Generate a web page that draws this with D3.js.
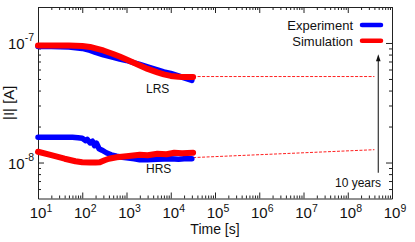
<!DOCTYPE html>
<html><head><meta charset="utf-8">
<script src="https://cdn.jsdelivr.net/npm/d3@7"></script>
<style>
body{margin:0;background:#fff}
svg{display:block;font-family:"Liberation Sans",Arial,Helvetica,sans-serif}
</style>
</head><body>
<svg id="c" width="415" height="242"></svg>
<script>
// ---- data ----
const lrsExpTime = [10,20,50,100,150,200,300,500,700,1000,1500,2000,3000,5000,7000,1e4,1.5e4,2e4,3e4];
const lrsExpI    = [9.35e-8,9.35e-8,9.26e-8,9.0e-8,8.66e-8,8.33e-8,7.94e-8,7.57e-8,7.35e-8,7.14e-8,6.81e-8,6.61e-8,6.30e-8,5.95e-8,5.73e-8,5.56e-8,5.30e-8,5.10e-8,4.86e-8];
const lrsSimTime = [10,50,100,150,200,300,500,700,1000,1500,2000,3000,5000,7000,1e4,1.5e4,2e4,3.2e4];
const lrsSimI    = [9.53e-8,9.53e-8,9.44e-8,9.26e-8,9.0e-8,8.66e-8,8.09e-8,7.71e-8,7.28e-8,6.81e-8,6.49e-8,6.07e-8,5.67e-8,5.46e-8,5.30e-8,5.22e-8,5.20e-8,5.20e-8];
const hrsExpTime = [10,30,60,80,100,120,130,150,170,190,210,240,280,350,450,600,800,1000,1500,2000,3000,5000,1e4,1.5e4,2e4,3e4];
const hrsExpI    = [1.626e-8,1.626e-8,1.626e-8,1.611e-8,1.596e-8,1.52e-8,1.562e-8,1.46e-8,1.506e-8,1.381e-8,1.449e-8,1.304e-8,1.267e-8,1.207e-8,1.16e-8,1.129e-8,1.107e-8,1.096e-8,1.076e-8,1.055e-8,1.055e-8,1.067e-8,1.076e-8,1.067e-8,1.076e-8,1.076e-8];
const hrsSimTime = [10,20,40,70,100,150,200,250,320,400,600,1000,2000,3000,5000,8000,1.2e4,1.8e4,3.2e4];
const hrsSimI    = [1.231e-8,1.151e-8,1.076e-8,1.025e-8,1.006e-8,1.0e-8,1.0e-8,1.006e-8,1.045e-8,1.076e-8,1.107e-8,1.129e-8,1.16e-8,1.151e-8,1.184e-8,1.173e-8,1.207e-8,1.196e-8,1.207e-8];
// extrapolations (dashed)
const extTime   = [3.2e4, 4.0e8];
const lrsExtI   = [5.24e-8, 5.24e-8];
const hrsExtI   = [1.10e-8, 1.28e-8];
// 10-year arrow annotation
const arrowTime = 4.9e8;
const arrowI    = [8.2e-9, 8.05e-8];
// ticks
const xMajor = [1e1,1e2,1e3,1e4,1e5,1e6,1e7,1e8,1e9];
const xExp   = ["1","2","3","4","5","6","7","8","9"];
const yMajor = [1e-8,1e-7];
const yExp   = ["-8","-7"];
const seriesNames = ["Experiment","Simulation"];
const colors = ["#0000ff","#ff0000"];

// ---- chart ----
const svg = d3.select("#c");
const L=38, R=392, T=7, B=198.5;
const x = d3.scaleLog().domain([10,1e9]).range([L,R]);
const y = d3.scaleLog().domain([5e-9,2e-7]).range([B,T]);

const xMinor=[]; for(let d=1; d<9; d++) for(let k=2;k<10;k++) xMinor.push(k*Math.pow(10,d));
const yMinor=[6e-9,7e-9,8e-9,9e-9]; for(let k=2;k<10;k++) yMinor.push(k*1e-8);

function axis(gen, tr, vals, size, domain){
  const g = svg.append("g").attr("transform",tr).attr("color","#222")
    .call(gen.tickValues(vals).tickSize(size).tickSizeOuter(0).tickFormat(()=>""));
  if(!domain) g.select(".domain").remove();
  return g;
}
axis(d3.axisBottom(x), `translate(0,${B})`, xMajor, -6, true);
axis(d3.axisBottom(x), `translate(0,${B})`, xMinor, -3, false);
axis(d3.axisTop(x), `translate(0,${T})`, xMajor, -6, true);
axis(d3.axisTop(x), `translate(0,${T})`, xMinor, -3, false);
axis(d3.axisLeft(y), `translate(${L},0)`, yMajor, -6, true);
axis(d3.axisLeft(y), `translate(${L},0)`, yMinor, -3, false);
axis(d3.axisRight(y), `translate(${R},0)`, yMajor, -6, true);
axis(d3.axisRight(y), `translate(${R},0)`, yMinor, -3, false);

// tick labels
xMajor.forEach((v,i)=>{
  const t = svg.append("text").attr("x",x(v)-8.3).attr("y",217.5).attr("font-size",15).attr("fill","#111");
  t.append("tspan").text("10");
  t.append("tspan").attr("font-size",10.5).attr("dy",-5.5).text(xExp[i]);
});
yMajor.forEach((v,i)=>{
  const t = svg.append("text").attr("x",34).attr("y",y(v)+6.3).attr("font-size",15).attr("text-anchor","end").attr("fill","#111");
  t.append("tspan").text("10");
  t.append("tspan").attr("font-size",10.5).attr("dy",-8).text(yExp[i]);
});

// axis titles
svg.append("text").attr("x",(L+R)/2).attr("y",234).attr("text-anchor","middle").attr("font-size",14).attr("fill","#111").text("Time [s]");
svg.append("text").attr("transform",`translate(14,${(T+B)/2}) rotate(-90)`).attr("text-anchor","middle").attr("font-size",15).attr("fill","#111").text("|I| [A]");

// dashed extrapolations
const line = d3.line().x(d=>x(d[0])).y(d=>y(d[1]));
[lrsExtI, hrsExtI].forEach(arr=>{
  svg.append("path").datum(extTime.map((t,i)=>[t,arr[i]])).attr("d",line)
    .attr("fill","none").attr("stroke","#ff2020").attr("stroke-width",1).attr("stroke-dasharray","3,1.5");
});

// curves
function curve(ts, is, color, w){
  svg.append("path").datum(ts.map((t,i)=>[t,is[i]])).attr("d",line)
    .attr("fill","none").attr("stroke",color).attr("stroke-width",w)
    .attr("stroke-linejoin","round").attr("stroke-linecap","round");
}
curve(lrsExpTime, lrsExpI, colors[0], 5.5);
curve(hrsExpTime, hrsExpI, colors[0], 5.5);
curve(lrsSimTime, lrsSimI, colors[1], 6);
curve(hrsSimTime, hrsSimI, colors[1], 6);

// state labels
svg.append("text").attr("x",146).attr("y",92.7).attr("font-size",12).attr("fill","#111").text("LRS");
svg.append("text").attr("x",146).attr("y",172.7).attr("font-size",12).attr("fill","#111").text("HRS");

// legend
seriesNames.forEach((n,i)=>{
  const yy = 25 + i*15.7;
  svg.append("text").attr("x",353).attr("y",yy+5).attr("text-anchor","end").attr("font-size",13).attr("fill","#111").text(n);
  svg.append("line").attr("x1",362).attr("x2",381).attr("y1",yy).attr("y2",yy)
    .attr("stroke",colors[i]).attr("stroke-width",4.5).attr("stroke-linecap","round");
});

// 10 years arrow
const ax = x(arrowTime);
svg.append("line").attr("x1",ax).attr("x2",ax).attr("y1",y(arrowI[0])).attr("y2",y(arrowI[1])+6)
  .attr("stroke","#333").attr("stroke-width",1.2);
svg.append("path").attr("d",`M${ax},${y(arrowI[1])} L${ax-2.3},${y(arrowI[1])+7} L${ax+2.3},${y(arrowI[1])+7} Z`).attr("fill","#111");
svg.append("text").attr("x",381).attr("y",186.5).attr("text-anchor","end").attr("font-size",12).attr("fill","#111").text("10 years");
</script>
</body></html>
